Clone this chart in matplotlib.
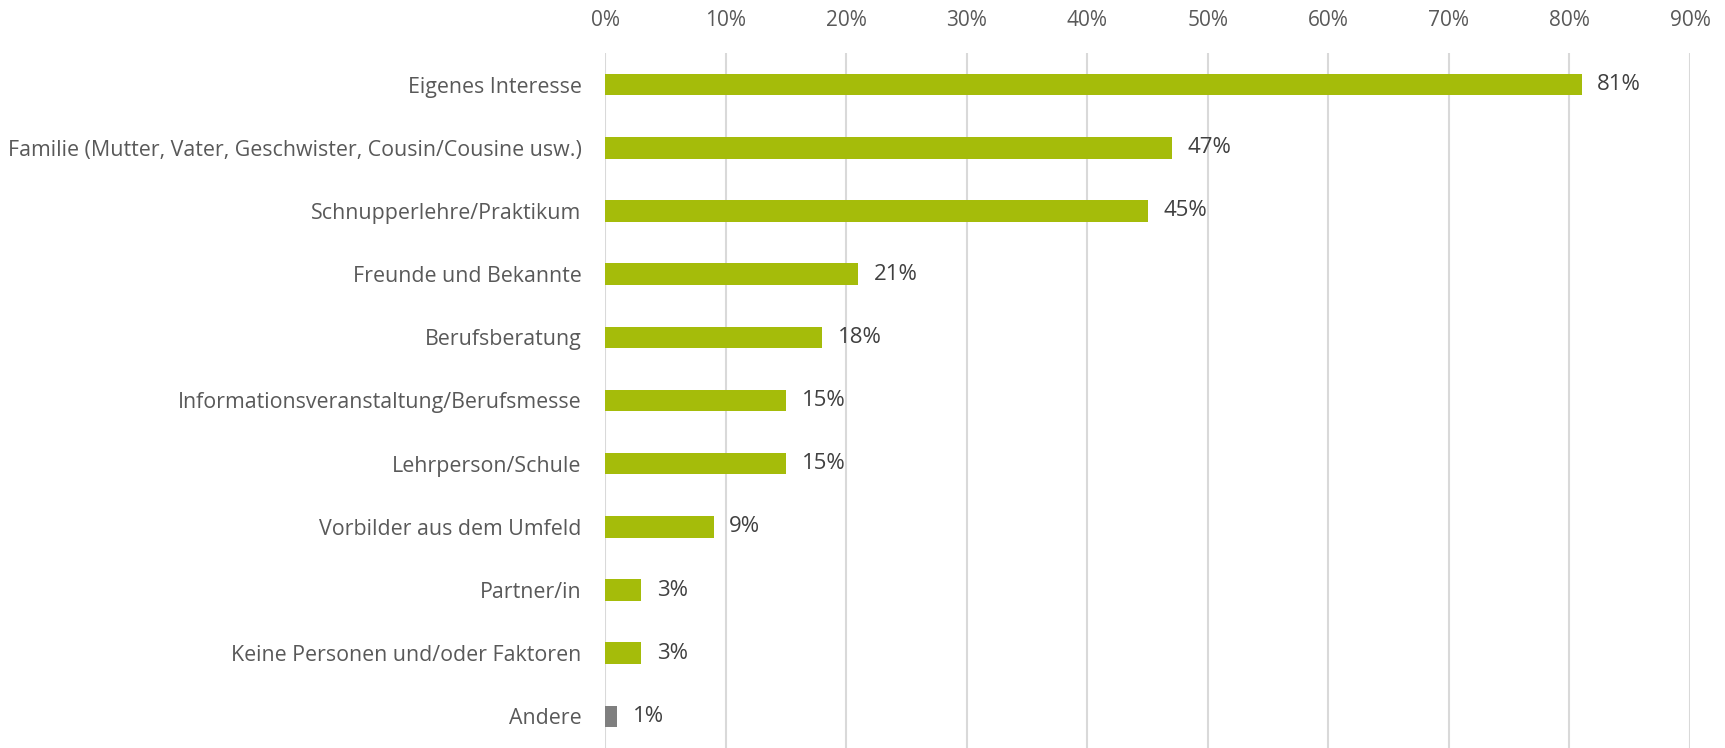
import matplotlib.pyplot as plt
from matplotlib.ticker import FuncFormatter

# Einflussfaktoren bei der Berufswahl (Anteil in %)
kategorien = [
    "Eigenes Interesse",
    "Familie (Mutter, Vater, Geschwister, Cousin/Cousine usw.)",
    "Schnupperlehre/Praktikum",
    "Freunde und Bekannte",
    "Berufsberatung",
    "Informationsveranstaltung/Berufsmesse",
    "Lehrperson/Schule",
    "Vorbilder aus dem Umfeld",
    "Partner/in",
    "Keine Personen und/oder Faktoren",
    "Andere",
]
werte = [81, 47, 45, 21, 18, 15, 15, 9, 3, 3, 1]
farben = ["#A5BC0A"] * 10 + ["#7F7F7F"]

plt.rcParams['font.family'] = ['Open Sans', 'DejaVu Sans']

fig = plt.figure(figsize=(17.25, 7.48), dpi=100)
ax = fig.add_axes([605 / 1725, 0.0, (1690 - 605) / 1725, (748 - 53) / 748])

y = list(range(len(kategorien)))
ax.barh(y, werte, height=0.34, color=farben, zorder=3)

for yi, w in zip(y, werte):
    ax.text(w + 1.3, yi, f"{w}%", va='center', ha='left', fontsize=16, color='#404040')

ax.set_xlim(0, 90)
ax.set_ylim(len(kategorien) - 0.5, -0.5)
ax.set_xticks(range(0, 91, 10))
ax.xaxis.set_major_formatter(FuncFormatter(lambda v, p: f"{int(v)}%"))
ax.xaxis.tick_top()
ax.set_yticks(y)
ax.set_yticklabels(kategorien)
ax.tick_params(axis='x', length=0, pad=16, labelsize=15, labelcolor='#595959')
ax.tick_params(axis='y', length=0, pad=17, labelsize=15.4, labelcolor='#595959')

ax.grid(axis='x', color='#D9D9D9', linewidth=1.5, zorder=0)
for s in ax.spines.values():
    s.set_visible(False)

fig.savefig("out.png", dpi=100)
